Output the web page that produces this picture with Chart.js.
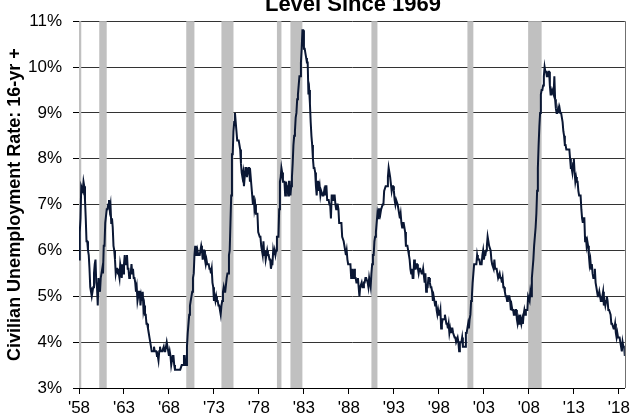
<!DOCTYPE html>
<html>
<head>
<meta charset="utf-8">
<script src="https://cdn.jsdelivr.net/npm/chart.js@4/dist/chart.umd.min.js"></script>
<style>
  html, body { margin: 0; padding: 0; background: #fff; }
  #wrap { width: 634px; height: 419px; position: relative; }
</style>
</head>
<body>
<div id="wrap"><canvas id="ur-chart" width="634" height="419"></canvas></div>
<script>
// Civilian unemployment rate (16-yr +), monthly, Jan 1958 .. Sep 2018
const startYear = 1958;
const unemploymentRate = [
  5.8, 6.4, 6.7, 7.4, 7.4, 7.3, 7.5, 7.4, 7.1, 6.7, 6.2, 6.2,   // 1958
  6.0, 5.9, 5.6, 5.2, 5.1, 5.0, 5.1, 5.2, 5.5, 5.7, 5.8, 5.3,   // 1959
  5.2, 4.8, 5.4, 5.2, 5.1, 5.4, 5.5, 5.6, 5.5, 6.1, 6.1, 6.6,   // 1960
  6.6, 6.9, 6.9, 7.0, 7.1, 6.9, 7.0, 6.6, 6.7, 6.5, 6.1, 6.0,   // 1961
  5.8, 5.5, 5.6, 5.6, 5.5, 5.5, 5.4, 5.7, 5.6, 5.4, 5.7, 5.5,   // 1962
  5.7, 5.9, 5.7, 5.7, 5.9, 5.6, 5.6, 5.4, 5.5, 5.5, 5.7, 5.5,   // 1963
  5.6, 5.4, 5.4, 5.3, 5.1, 5.2, 4.9, 5.0, 5.1, 5.1, 4.8, 5.0,   // 1964
  4.9, 5.1, 4.7, 4.8, 4.6, 4.6, 4.4, 4.4, 4.3, 4.2, 4.1, 4.0,   // 1965
  4.0, 3.8, 3.8, 3.8, 3.9, 3.8, 3.8, 3.8, 3.7, 3.7, 3.6, 3.8,   // 1966
  3.9, 3.8, 3.8, 3.8, 3.8, 3.9, 3.8, 3.8, 3.8, 4.0, 3.9, 3.8,   // 1967
  3.7, 3.8, 3.7, 3.5, 3.5, 3.7, 3.7, 3.5, 3.4, 3.4, 3.4, 3.4,   // 1968
  3.4, 3.4, 3.4, 3.4, 3.4, 3.5, 3.5, 3.5, 3.7, 3.7, 3.5, 3.5,   // 1969
  3.9, 4.2, 4.4, 4.6, 4.8, 4.9, 5.0, 5.1, 5.4, 5.5, 5.9, 6.1,   // 1970
  5.9, 5.9, 6.0, 5.9, 5.9, 5.9, 6.0, 6.1, 6.0, 5.8, 6.0, 6.0,   // 1971
  5.8, 5.7, 5.8, 5.7, 5.7, 5.7, 5.6, 5.6, 5.5, 5.6, 5.3, 5.2,   // 1972
  4.9, 5.0, 4.9, 5.0, 4.9, 4.9, 4.8, 4.8, 4.8, 4.6, 4.8, 4.9,   // 1973
  5.1, 5.2, 5.1, 5.1, 5.1, 5.4, 5.5, 5.5, 5.9, 6.0, 6.6, 7.2,   // 1974
  8.1, 8.1, 8.6, 8.8, 9.0, 8.8, 8.6, 8.4, 8.4, 8.4, 8.3, 8.2,   // 1975
  7.9, 7.7, 7.6, 7.7, 7.4, 7.6, 7.8, 7.8, 7.6, 7.7, 7.8, 7.8,   // 1976
  7.5, 7.6, 7.4, 7.2, 7.0, 7.2, 6.9, 7.0, 6.8, 6.8, 6.8, 6.4,   // 1977
  6.4, 6.3, 6.3, 6.1, 6.0, 5.9, 6.2, 5.9, 6.0, 5.8, 5.9, 6.0,   // 1978
  5.9, 5.9, 5.8, 5.8, 5.6, 5.7, 5.7, 6.0, 5.9, 6.0, 5.9, 6.0,   // 1979
  6.3, 6.3, 6.3, 6.9, 7.5, 7.6, 7.8, 7.7, 7.5, 7.5, 7.5, 7.2,   // 1980
  7.5, 7.4, 7.4, 7.2, 7.5, 7.5, 7.2, 7.4, 7.6, 7.9, 8.3, 8.5,   // 1981
  8.6, 8.9, 9.0, 9.3, 9.4, 9.6, 9.8, 9.8, 10.1, 10.4, 10.8, 10.8, // 1982
  10.4, 10.4, 10.3, 10.2, 10.1, 10.1, 9.4, 9.5, 9.2, 8.8, 8.5, 8.3, // 1983
  8.0, 7.8, 7.8, 7.7, 7.4, 7.2, 7.5, 7.5, 7.3, 7.4, 7.2, 7.3,   // 1984
  7.3, 7.2, 7.2, 7.3, 7.2, 7.4, 7.4, 7.1, 7.1, 7.1, 7.0, 7.0,   // 1985
  6.7, 7.2, 7.2, 7.1, 7.2, 7.2, 7.0, 6.9, 7.0, 7.0, 6.9, 6.6,   // 1986
  6.6, 6.6, 6.6, 6.3, 6.3, 6.2, 6.1, 6.0, 5.9, 6.0, 5.8, 5.7,   // 1987
  5.7, 5.7, 5.7, 5.4, 5.6, 5.4, 5.4, 5.6, 5.4, 5.4, 5.3, 5.3,   // 1988
  5.4, 5.2, 5.0, 5.2, 5.2, 5.3, 5.2, 5.2, 5.3, 5.3, 5.4, 5.4,   // 1989
  5.4, 5.3, 5.2, 5.4, 5.4, 5.2, 5.5, 5.7, 5.9, 5.9, 6.2, 6.3,   // 1990
  6.4, 6.6, 6.8, 6.7, 6.9, 6.9, 6.8, 6.9, 6.9, 7.0, 7.0, 7.3,   // 1991
  7.3, 7.4, 7.4, 7.4, 7.6, 7.8, 7.7, 7.6, 7.6, 7.3, 7.4, 7.4,   // 1992
  7.3, 7.1, 7.0, 7.1, 7.1, 7.0, 6.9, 6.8, 6.7, 6.8, 6.6, 6.5,   // 1993
  6.6, 6.6, 6.5, 6.4, 6.1, 6.1, 6.1, 6.0, 5.9, 5.8, 5.6, 5.5,   // 1994
  5.6, 5.4, 5.4, 5.8, 5.6, 5.6, 5.7, 5.7, 5.6, 5.5, 5.6, 5.6,   // 1995
  5.6, 5.5, 5.5, 5.6, 5.6, 5.3, 5.5, 5.1, 5.2, 5.2, 5.4, 5.4,   // 1996
  5.3, 5.2, 5.2, 5.1, 4.9, 5.0, 4.9, 4.8, 4.9, 4.7, 4.6, 4.7,   // 1997
  4.6, 4.6, 4.7, 4.3, 4.4, 4.5, 4.5, 4.5, 4.6, 4.5, 4.4, 4.4,   // 1998
  4.3, 4.4, 4.2, 4.3, 4.2, 4.3, 4.3, 4.2, 4.2, 4.1, 4.1, 4.0,   // 1999
  4.0, 4.1, 4.0, 3.8, 4.0, 4.0, 4.0, 4.1, 3.9, 3.9, 3.9, 3.9,   // 2000
  4.2, 4.2, 4.3, 4.4, 4.3, 4.5, 4.6, 4.9, 5.0, 5.3, 5.5, 5.7,   // 2001
  5.7, 5.7, 5.7, 5.9, 5.8, 5.8, 5.8, 5.7, 5.7, 5.7, 5.9, 6.0,   // 2002
  5.8, 5.9, 5.9, 6.0, 6.1, 6.3, 6.2, 6.1, 6.1, 6.0, 5.8, 5.7,   // 2003
  5.7, 5.6, 5.8, 5.6, 5.6, 5.6, 5.5, 5.4, 5.4, 5.5, 5.4, 5.4,   // 2004
  5.3, 5.4, 5.2, 5.2, 5.1, 5.0, 5.0, 4.9, 5.0, 5.0, 5.0, 4.9,   // 2005
  4.7, 4.8, 4.7, 4.7, 4.6, 4.6, 4.7, 4.7, 4.5, 4.4, 4.5, 4.4,   // 2006
  4.6, 4.5, 4.4, 4.5, 4.4, 4.6, 4.7, 4.6, 4.7, 4.7, 4.7, 5.0,   // 2007
  5.0, 4.9, 5.1, 5.0, 5.4, 5.6, 5.8, 6.1, 6.1, 6.5, 6.8, 7.3,   // 2008
  7.8, 8.3, 8.7, 9.0, 9.4, 9.5, 9.5, 9.6, 9.8, 10.0, 9.9, 9.9,  // 2009
  9.8, 9.8, 9.9, 9.9, 9.6, 9.4, 9.4, 9.5, 9.5, 9.4, 9.8, 9.3,   // 2010
  9.1, 9.0, 9.0, 9.1, 9.0, 9.1, 9.0, 9.0, 9.0, 8.8, 8.6, 8.5,   // 2011
  8.3, 8.3, 8.2, 8.2, 8.2, 8.2, 8.2, 8.0, 7.8, 7.8, 7.7, 7.9,   // 2012
  8.0, 7.7, 7.5, 7.6, 7.5, 7.5, 7.3, 7.2, 7.2, 7.2, 6.9, 6.7,   // 2013
  6.6, 6.7, 6.7, 6.2, 6.3, 6.1, 6.2, 6.1, 5.9, 5.7, 5.8, 5.6,   // 2014
  5.7, 5.5, 5.4, 5.4, 5.6, 5.3, 5.2, 5.1, 5.0, 5.0, 5.1, 5.0,   // 2015
  4.9, 4.9, 5.0, 5.1, 4.8, 4.9, 4.8, 4.9, 5.0, 4.9, 4.7, 4.7,   // 2016
  4.7, 4.6, 4.4, 4.4, 4.4, 4.3, 4.3, 4.4, 4.2, 4.1, 4.2, 4.1,   // 2017
  4.1, 4.1, 4.0, 3.9, 3.8, 4.0, 3.9, 3.9, 3.7                   // 2018
];

// recession shading (decimal years)
const recessionStart = [1957.58, 1960.25, 1969.92, 1973.83, 1980.0, 1981.5, 1990.5, 2001.17, 2007.92];
const recessionEnd   = [1958.25, 1961.08, 1970.83, 1975.17, 1980.5, 1982.83, 1991.17, 2001.83, 2009.42];

const xTickYears = [1958, 1963, 1968, 1973, 1978, 1983, 1988, 1993, 1998, 2003, 2008, 2013, 2018];
const yTicks = [3, 4, 5, 6, 7, 8, 9, 10, 11];

const chartTitle = 'Level Since 1969';
const yAxisTitle = 'Civilian Unemployment Rate: 16-yr +';

const lineColor = '#0a1734';
const shadeColor = '#c0c0c0';
const gridColor = '#333333';

// 灰色衰退區塊：畫在格線之上、折線之下
const recessionPlugin = {
    id: 'recessions',
    beforeDatasetsDraw(chart) {
        const { ctx, chartArea, scales } = chart;
        const x = scales.x;
        ctx.save();
        ctx.fillStyle = shadeColor;
        recessionStart.forEach((s, i) => {
            const a = x.getPixelForValue(Math.max(s, x.min));
            const b = x.getPixelForValue(Math.min(recessionEnd[i], x.max));
            ctx.fillRect(a, chartArea.top, b - a, chartArea.bottom - chartArea.top);
        });
        ctx.restore();
    },
    afterDraw(chart) {
        const { ctx, chartArea } = chart;
        ctx.save();
        // right frame line
        ctx.strokeStyle = '#707070';
        ctx.lineWidth = 1;
        ctx.beginPath();
        const rx = Math.round(chartArea.right) + 0.5;
        ctx.moveTo(rx, chartArea.top);
        ctx.lineTo(rx, chartArea.bottom);
        ctx.stroke();
        // title, clipped at the top as in the original
        ctx.fillStyle = '#000';
        ctx.font = 'bold 22px Arial, "Liberation Sans", sans-serif';
        ctx.textAlign = 'center';
        ctx.textBaseline = 'alphabetic';
        ctx.fillText(chartTitle, 353, 11);
        ctx.restore();
    }
};

const points = unemploymentRate.map((v, i) => ({ x: startYear + i / 12, y: v }));

new Chart(document.getElementById('ur-chart'), {
    type: 'line',
    data: {
        datasets: [{
            label: 'Unemployment Rate',
            data: points,
            borderColor: lineColor,
            borderWidth: 2,
            pointRadius: 0,
            tension: 0,
            fill: false
        }]
    },
    options: {
        responsive: false,
        animation: false,
        layout: { padding: { top: 18, right: 8, left: 0, bottom: 0 } },
        plugins: {
            legend: { display: false },
            tooltip: { enabled: false },
            title: { display: false }
        },
        scales: {
            x: {
                type: 'linear',
                min: startYear,
                max: startYear + (unemploymentRate.length - 1) / 12,
                afterBuildTicks: (scale) => {
                    scale.ticks = xTickYears.map(v => ({ value: v }));
                },
                afterFit: (scale) => { scale.height = 31; },
                grid: {
                    drawOnChartArea: false,
                    drawTicks: true,
                    tickLength: 6,
                    tickColor: '#000'
                },
                border: { color: '#000', width: 1 },
                ticks: {
                    autoSkip: false,
                    maxRotation: 0,
                    padding: 4,
                    color: '#000',
                    font: { family: 'Arial, "Liberation Sans", sans-serif', size: 17 },
                    callback: (v) => "'" + String(v).slice(2)
                }
            },
            y: {
                min: 3,
                max: 11,
                afterBuildTicks: (scale) => {
                    scale.ticks = yTicks.map(v => ({ value: v }));
                },
                afterFit: (scale) => { scale.width = 79; },
                grid: {
                    color: gridColor,
                    lineWidth: 1,
                    drawTicks: true,
                    tickLength: 6,
                    tickColor: '#000'
                },
                border: { color: '#000', width: 1 },
                ticks: {
                    padding: 11,
                    color: '#000',
                    font: { family: 'Arial, "Liberation Sans", sans-serif', size: 17 },
                    callback: (v) => v + '%'
                },
                title: {
                    display: true,
                    text: yAxisTitle,
                    color: '#000',
                    padding: { top: 4, bottom: 4 },
                    font: { family: 'Arial, "Liberation Sans", sans-serif', size: 18, weight: 'bold' }
                }
            }
        }
    },
    plugins: [recessionPlugin]
});
</script>
</body>
</html>
